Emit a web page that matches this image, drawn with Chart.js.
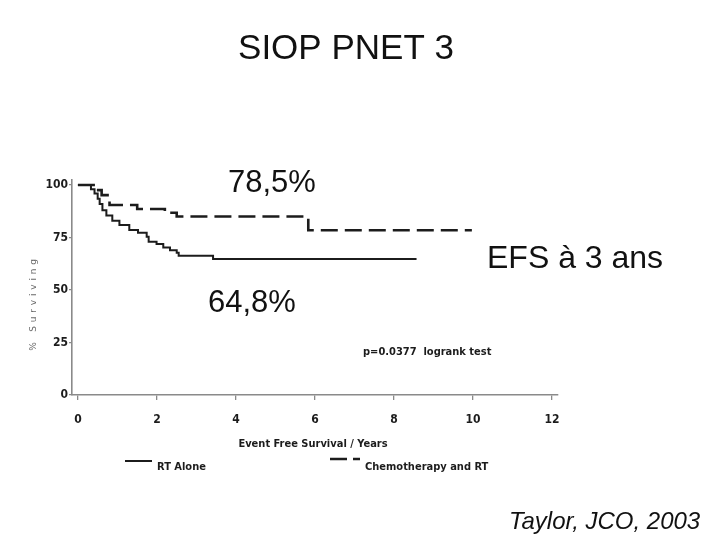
<!DOCTYPE html>
<html>
<head>
<meta charset="utf-8">
<script src="https://cdn.jsdelivr.net/npm/chart.js@4"></script>
<style>
  html, body { margin: 0; padding: 0; background: #fff; }
  #wrap { width: 720px; height: 540px; }
</style>
</head>
<body>
<div id="wrap"><canvas id="efsChart" width="720" height="540"></canvas></div>
<script>
// Kaplan-Meier steps (years, % surviving)
const rtYears  = [0, 0.33, 0.42, 0.5, 0.55, 0.62, 0.72, 0.87, 1.05, 1.3, 1.52, 1.74, 1.79, 1.99, 2.16, 2.33, 2.5, 2.55, 3.42, 8.57];
const rtSurv   = [100, 98, 96, 93.5, 91, 88, 85.5, 83, 81, 78.6, 77.3, 75.4, 73, 71.9, 70.3, 69, 67.8, 66.3, 64.8, 64.8];
const chemoYears = [0, 0.45, 0.6, 0.75, 0.8, 1.5, 2.2, 2.5, 5.83, 9.97];
const chemoSurv  = [100, 97.6, 95.2, 92.9, 90.5, 88.6, 86.8, 85, 78.5, 78.5];

const seriesNames = ["RT Alone", "Chemotherapy and RT"];
const xTicks = [0, 2, 4, 6, 8, 10, 12];
const yTicks = [0, 25, 50, 75, 100];

const ink = "#1c1c1c";
const axisGrey = "#8a8a8a";
const tickFont = { family: "'Liberation Sans Narrow', 'DejaVu Sans Condensed', 'Liberation Sans', sans-serif", size: 12, weight: "bold" };

function toPoints(xs, ys) {
  return xs.map((x, i) => ({ x: x, y: ys[i] }));
}

// free text on the slide, drawn on top of the chart
const slideText = {
  id: "slideText",
  afterDraw(chart) {
    const ctx = chart.ctx;
    ctx.save();
    ctx.fillStyle = "#111";
    ctx.textBaseline = "alphabetic";

    ctx.font = "35px 'Liberation Sans', Arial, sans-serif";
    ctx.textAlign = "center";
    ctx.fillText("SIOP PNET 3", 346, 59);

    ctx.textAlign = "left";
    ctx.font = "31px 'Liberation Sans', Arial, sans-serif";
    ctx.fillText("78,5%", 228, 192);
    ctx.fillText("64,8%", 208, 312);
    ctx.font = "32px 'Liberation Sans', Arial, sans-serif";
    ctx.fillText("EFS à 3 ans", 487, 268);

    ctx.font = "italic 24px 'Liberation Sans', Arial, sans-serif";
    ctx.fillText("Taylor, JCO, 2003", 509, 529);

    // p-value note
    ctx.fillStyle = ink;
    ctx.font = "bold 11px 'Liberation Sans Narrow', 'DejaVu Sans Condensed', sans-serif";
    ctx.fillText("p=0.0377  logrank test", 363, 355);

    // axis titles
    ctx.textAlign = "center";
    ctx.fillText("Event Free Survival / Years", 313, 447);

    ctx.save();
    ctx.translate(36, 303);
    ctx.rotate(-Math.PI / 2);
    ctx.fillStyle = "#6a6a6a";
    ctx.font = "9px 'DejaVu Sans', sans-serif";
    ctx.letterSpacing = "3.8px";
    ctx.fillText("% Surviving", 0, 0);
    ctx.restore();

    // legend
    const ds = chart.data.datasets;
    const rows = [
      { x0: 125, x1: 152, y: 461, tx: 157, ty: 470 },
      { x0: 330, x1: 360, y: 459, tx: 365, ty: 470 }
    ];
    ctx.textAlign = "left";
    ctx.font = "bold 11px 'Liberation Sans Narrow', 'DejaVu Sans Condensed', sans-serif";
    rows.forEach((r, i) => {
      ctx.beginPath();
      ctx.strokeStyle = ds[i].borderColor;
      ctx.lineWidth = ds[i].borderWidth;
      ctx.setLineDash(i === 1 ? [17, 6] : []);
      ctx.moveTo(r.x0, r.y);
      ctx.lineTo(r.x1, r.y);
      ctx.stroke();
      ctx.setLineDash([]);
      ctx.fillStyle = ink;
      ctx.fillText(seriesNames[i], r.tx, r.ty);
    });
    ctx.restore();
  }
};

const whiteBg = {
  id: "whiteBg",
  beforeDraw(chart) {
    const ctx = chart.ctx;
    ctx.save();
    ctx.fillStyle = "#fff";
    ctx.fillRect(0, 0, chart.width, chart.height);
    ctx.restore();
  }
};

const ctx = document.getElementById("efsChart").getContext("2d");
const efsChart = new Chart(ctx, {
  type: "line",
  data: {
    datasets: [{
      label: seriesNames[0],
      data: toPoints(rtYears, rtSurv),
      borderColor: ink,
      borderWidth: 2,
      stepped: true,
      pointRadius: 0,
      fill: false
    }, {
      label: seriesNames[1],
      data: toPoints(chemoYears, chemoSurv),
      borderColor: ink,
      borderWidth: 2.6,
      borderDash: [17, 7],
      stepped: true,
      pointRadius: 0,
      fill: false
    }]
  },
  options: {
    responsive: false,
    animation: false,
    events: [],
    layout: { padding: { left: 40, right: 162, top: 180, bottom: 115 } },
    plugins: {
      legend: { display: false },
      title: { display: false },
      tooltip: { enabled: false }
    },
    scales: {
      x: {
        type: "linear",
        min: -0.15,
        max: 12.15,
        afterFit: s => { s.height = 30; },
        afterBuildTicks: s => { s.ticks = xTicks.map(v => ({ value: v })); },
        grid: { drawOnChartArea: false, drawTicks: true, tickLength: 5, color: axisGrey, lineWidth: 1.3 },
        border: { display: true, color: axisGrey, width: 1.6 },
        ticks: { color: ink, font: tickFont, padding: 13, maxRotation: 0 }
      },
      y: {
        type: "linear",
        min: 0,
        max: 102.4,
        afterFit: s => { s.width = 32; },
        afterBuildTicks: s => { s.ticks = yTicks.map(v => ({ value: v })); },
        grid: { drawOnChartArea: false, drawTicks: true, tickLength: 3, color: axisGrey, lineWidth: 1.3 },
        border: { display: true, color: axisGrey, width: 1.6 },
        ticks: { color: ink, font: tickFont, padding: 1 }
      }
    }
  },
  plugins: [whiteBg, slideText]
});
</script>
</body>
</html>
